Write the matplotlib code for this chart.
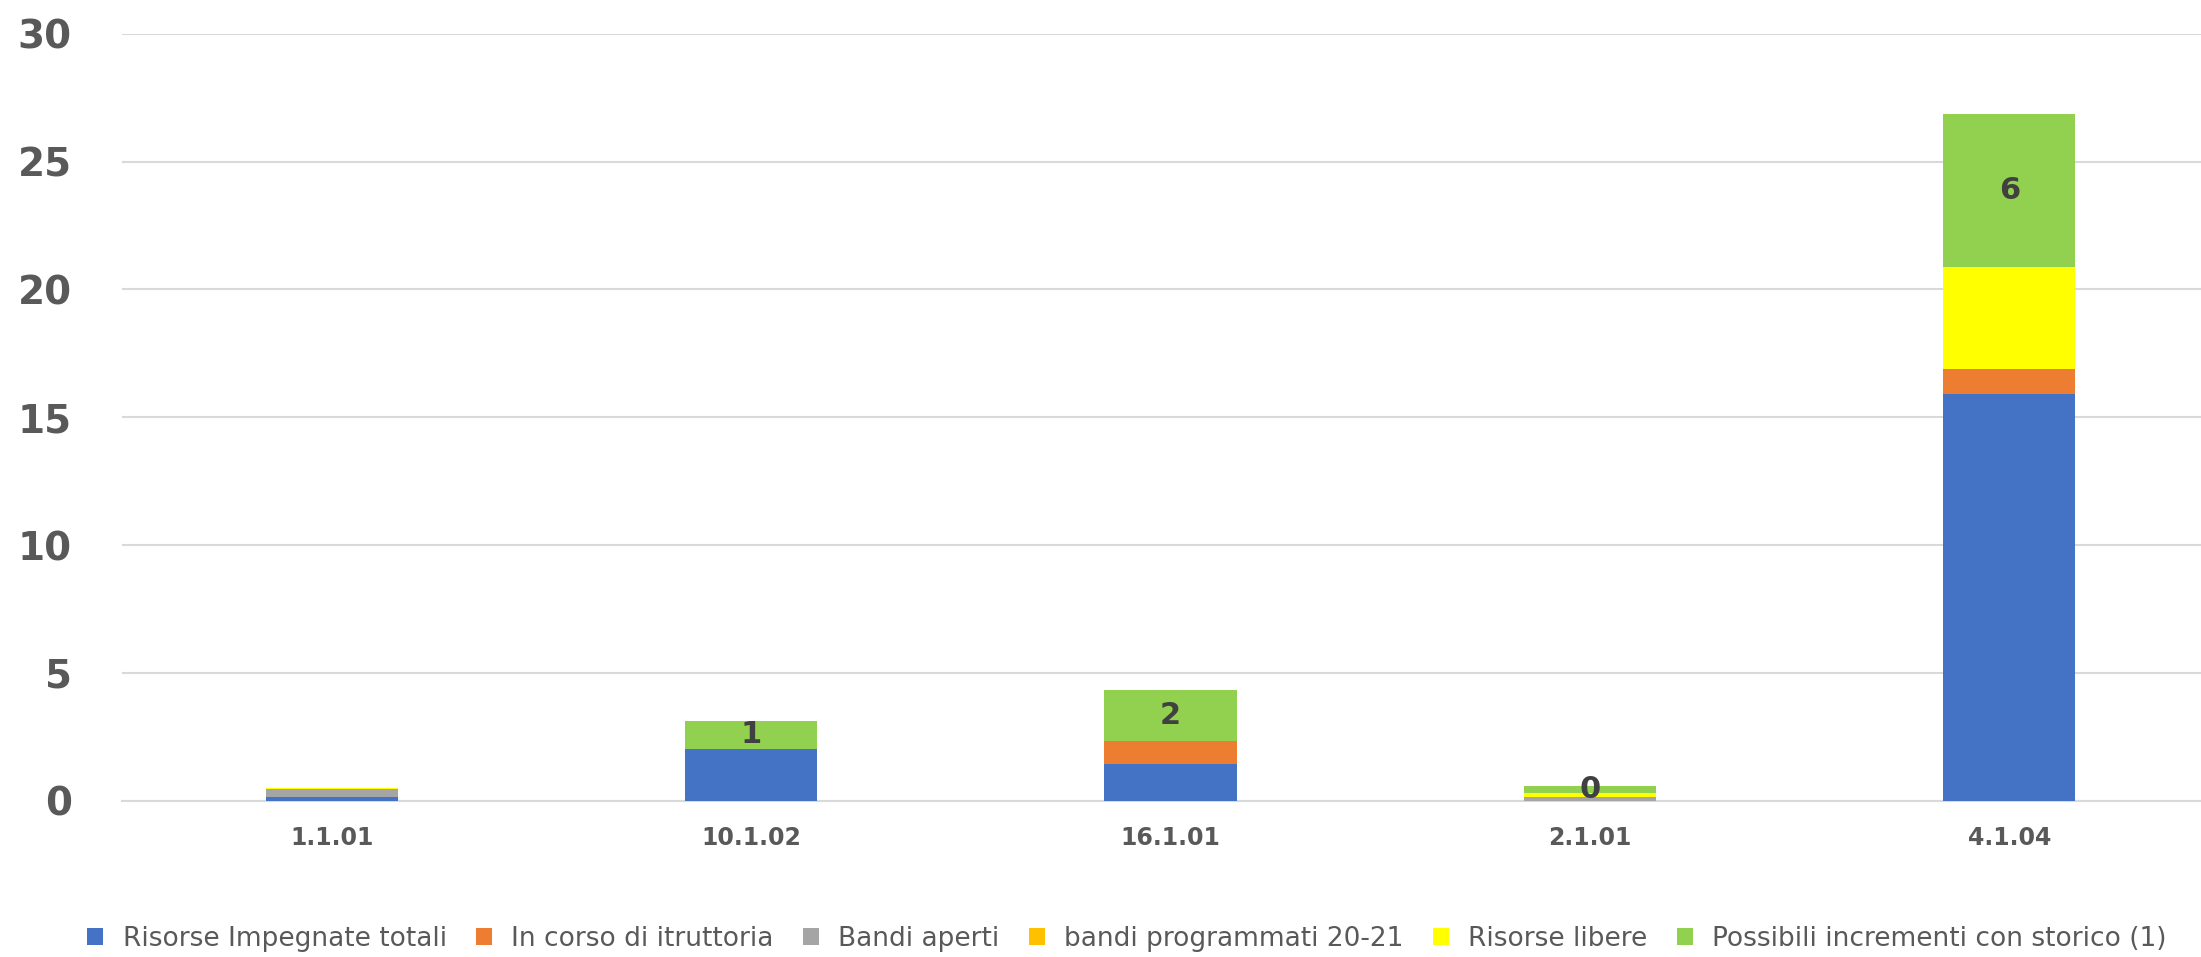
import matplotlib
matplotlib.use("Agg")
import matplotlib.pyplot as plt
from matplotlib.patches import Rectangle
import numpy as np

categories = ['1.1.01', '10.1.02', '16.1.01', '2.1.01', '4.1.04']
risorse_impegnate = [0.13, 2.03, 1.44, 0.0, 15.9]
in_corso = [0.0, 0.0, 0.89, 0.0, 0.97]
bandi_aperti = [0.32, 0.0, 0.0, 0.16, 0.0]
bandi_programmati = [0.0, 0.0, 0.0, 0.0, 0.0]
risorse_libere = [0.04, 0.0, 0.0, 0.13, 4.0]
possibili_incrementi = [0.0, 1.1, 2.0, 0.3, 6.0]

series_names = ['Risorse Impegnate totali', 'In corso di itruttoria', 'Bandi aperti',
                'bandi programmati 20-21', 'Risorse libere', 'Possibili incrementi con storico (1)']
colors = ['#4472C4', '#ED7D31', '#A5A5A5', '#FFC000', '#FFFF00', '#92D050']
series = [risorse_impegnate, in_corso, bandi_aperti, bandi_programmati, risorse_libere, possibili_incrementi]

fig = plt.figure(figsize=(22.01, 9.57), dpi=100)
ax = fig.add_axes([122/2201, (957-800.7)/957, (2219-122)/2201, (800.7-33.7)/957])

x = np.arange(len(categories))
bottom = np.zeros(len(categories))
for vals, c in zip(series, colors):
    v = np.array(vals)
    ax.bar(x, v, width=0.315, bottom=bottom, color=c, edgecolor='none', zorder=3)
    bottom = bottom + v

# data labels on last series
green = np.array(possibili_incrementi)
base = bottom - green
for xi, b, g in zip(x, base, green):
    if g > 0:
        ax.text(xi, b + g / 2, f"{g:.0f}", ha='center', va='center', fontsize=22,
                fontweight='bold', color='#404040', zorder=5)

ax.set_xlim(-0.5, 4.5)
ax.set_ylim(0, 30)
ax.set_yticks([0, 5, 10, 15, 20, 25, 30])
ax.set_xticks(x)
ax.set_xticklabels(categories)
ax.yaxis.grid(True, color='#D9D9D9', linewidth=1.5, zorder=0)
ax.set_axisbelow(True)
for s in ['top', 'right', 'left']:
    ax.spines[s].set_visible(False)
ax.spines['bottom'].set_color('#D9D9D9')
ax.spines['bottom'].set_linewidth(1.5)
ax.tick_params(axis='both', length=0)
ax.tick_params(axis='y', pad=36, labelsize=28, labelcolor='#595959')
ax.tick_params(axis='x', pad=18, labelsize=17, labelcolor='#595959')
for lab in ax.get_yticklabels() + ax.get_xticklabels():
    lab.set_fontweight('bold')

handles = [Rectangle((0, 0), 1, 1, facecolor=c, edgecolor='none') for c in colors]
fig.legend(handles, series_names, loc='center', bbox_to_anchor=(0.512, 1 - 939/957),
           ncol=6, frameon=False, prop={'family': 'DejaVu Sans', 'size': 19},
           handlelength=0.6, handleheight=0.6, handletextpad=0.75, columnspacing=1.1,
           labelcolor='#595959')

fig.savefig('out.png', dpi=100)
